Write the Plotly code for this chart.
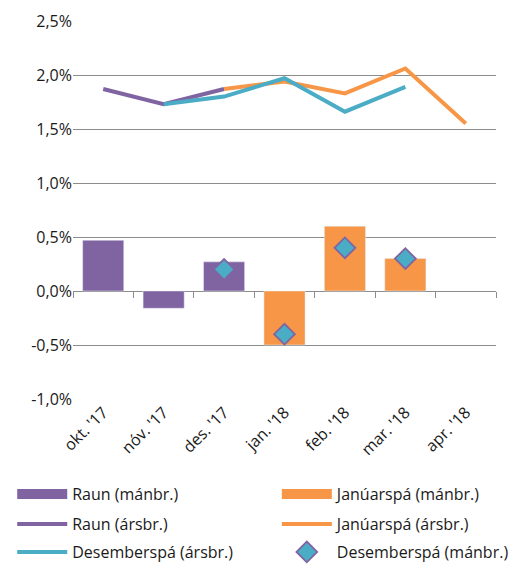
import plotly.graph_objects as go

categories = ["okt. '17", "nóv. '17", "des. '17", "jan. '18", "feb. '18", "mar. '18", "apr. '18"]
raun_man = [0.47, -0.16, 0.27, None, None, None, None]
jan_man = [None, None, None, -0.5, 0.6, 0.3, None]
raun_ars = [1.87, 1.73, 1.87, None, None, None, None]
jan_ars = [None, None, 1.87, 1.94, 1.83, 2.06, 1.55]
des_ars = [None, 1.73, 1.80, 1.97, 1.66, 1.89, None]
des_man = [None, None, 0.2, -0.4, 0.4, 0.3, None]
ytick_vals = [-1.0, -0.5, 0.0, 0.5, 1.0, 1.5, 2.0, 2.5]
ytick_text = ["-1,0%", "-0,5%", "0,0%", "0,5%", "1,0%", "1,5%", "2,0%", "2,5%"]

PURPLE = "#8064A2"
ORANGE = "#F79646"
TEAL = "#4BACC6"
FONT = "Open Sans"
TXT = "#1a1a1a"
LW = 4

fig = go.Figure()
# bars (on overlaid x2 axis, which draws the boundary ticks at zero)
fig.add_trace(go.Bar(x=categories, y=raun_man, name="Raun (mánbr.)", marker_color=PURPLE,
                     width=0.68, xaxis="x2", showlegend=False))
fig.add_trace(go.Bar(x=categories, y=jan_man, name="Janúarspá (mánbr.)", marker_color=ORANGE,
                     width=0.68, xaxis="x2", showlegend=False))
# legend proxies for the bars (wide rectangle symbols)
fig.add_trace(go.Scatter(x=[None], y=[None], name="Raun (mánbr.)", mode="lines",
                         line=dict(color=PURPLE, width=11), legend="legend"))
fig.add_trace(go.Scatter(x=[None], y=[None], name="Janúarspá (mánbr.)", mode="lines",
                         line=dict(color=ORANGE, width=11), legend="legend2"))
fig.add_trace(go.Scatter(x=categories, y=raun_ars, name="Raun (ársbr.)", mode="lines",
                         line=dict(color=PURPLE, width=LW), legend="legend3"))
fig.add_trace(go.Scatter(x=categories, y=jan_ars, name="Janúarspá (ársbr.)", mode="lines",
                         line=dict(color=ORANGE, width=LW), legend="legend4"))
fig.add_trace(go.Scatter(x=categories, y=des_ars, name="Desemberspá (ársbr.)", mode="lines",
                         line=dict(color=TEAL, width=LW), legend="legend5"))
fig.add_trace(go.Scatter(x=categories, y=des_man, name="Desemberspá (mánbr.)", mode="markers",
                         xaxis="x2",
                         marker=dict(symbol="diamond", size=16, color=TEAL,
                                     line=dict(color=PURPLE, width=1.8)), legend="legend6"))

def leg(x, y):
    return dict(orientation="h", x=x, y=y, xref="container", yref="container",
                xanchor="left", yanchor="middle",
                font=dict(family=FONT, size=16, color=TXT),
                itemwidth=50, bgcolor="rgba(0,0,0,0)")

col1, col2 = 0.0082, 0.522
row1, row2, row3 = 0.129, 0.0753, 0.0251
fig.update_layout(
    width=515, height=558,
    margin=dict(l=65, r=27, t=13, b=167, autoexpand=False),
    paper_bgcolor="white", plot_bgcolor="white",
    barmode="overlay",
    showlegend=True,
    font=dict(family=FONT, size=16, color=TXT),
    legend=leg(col1, row1), legend2=leg(col2, row1),
    legend3=leg(col1, row2), legend4=leg(col2, row2),
    legend5=leg(col1, row3), legend6=leg(col2, row3),
    xaxis=dict(type="category", categoryarray=categories, range=[-0.5, 6.5], tickangle=-45,
               showgrid=False, ticks="", showline=False, zeroline=False, automargin=False,
               tickfont=dict(family=FONT, size=16, color=TXT)),
    xaxis2=dict(type="category", categoryarray=categories, overlaying="x", anchor="free",
                position=1/3.5, range=[-0.5, 6.5], tickson="boundaries", automargin=False,
                showticklabels=False, ticks="outside", ticklen=6, tickcolor="#8C8C8C",
                showgrid=False, zeroline=False, showline=False),
    yaxis=dict(range=[-1.0, 2.5], tickvals=ytick_vals, ticktext=ytick_text,
               showgrid=True, gridcolor="#8C8C8C", gridwidth=1, automargin=False,
               zeroline=True, zerolinecolor="#8C8C8C", zerolinewidth=1,
               showline=False, ticks="",
               tickfont=dict(family=FONT, size=16, color=TXT)),
)
fig.write_html("out.html")
